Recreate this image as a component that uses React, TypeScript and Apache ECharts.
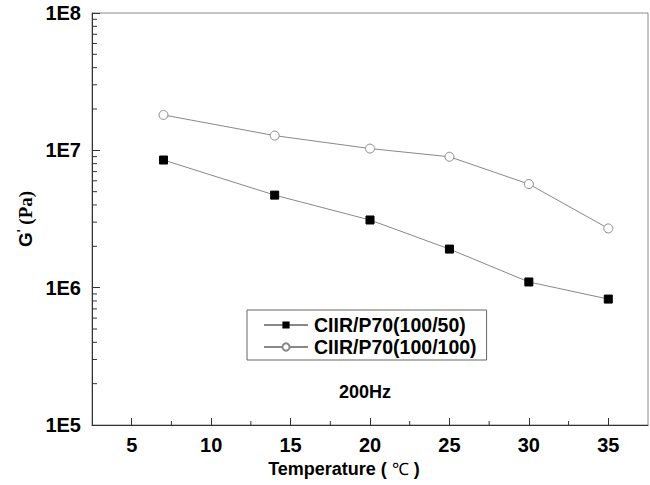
import React, { useEffect, useRef } from "react";
import * as echarts from "echarts";

const temperatures = [7, 14, 20, 25, 30, 35];
const seriesNames = ["CIIR/P70(100/50)", "CIIR/P70(100/100)"];
const modulus50 = [8.5e6, 4.72e6, 3.11e6, 1.91e6, 1.10e6, 8.26e5];
const modulus100 = [1.81e7, 1.28e7, 1.03e7, 8.98e6, 5.68e6, 2.70e6];
const xMin = 2.5;
const xMax = 37.5;
const yMin = 1e5;
const yMax = 1e8;
const xMajorTicks = [5, 10, 15, 20, 25, 30, 35];
const xMinorTicks = [7.5, 12.5, 17.5, 22.5, 27.5, 32.5];
const yMinorTicks = [
  2e5, 3e5, 4e5, 5e5, 6e5, 7e5, 8e5, 9e5,
  2e6, 3e6, 4e6, 5e6, 6e6, 7e6, 8e6, 9e6,
  2e7, 3e7, 4e7, 5e7, 6e7, 7e7, 8e7, 9e7,
];
const annotation = "200Hz";

const FONT = "Arial, 'Liberation Sans', Helvetica, sans-serif";
const SERIF = "'Times New Roman', 'Liberation Serif', serif";
const AXIS_COLOR = "#333";
const TEXT = "#000";

export default function App() {
  const ref = useRef<HTMLDivElement>(null);
  useEffect(() => {
    if (!ref.current) return;
    const chart = echarts.init(ref.current, null, { renderer: "svg" });
    chart.setOption({
      animation: false,
      backgroundColor: "#ffffff",
      grid: { left: 92, right: 2, top: 13, bottom: 60, show: true, borderColor: "#8a8a8a", borderWidth: 1 },
      legend: {
        orient: "vertical",
        left: 247,
        top: 310,
        width: 239,
        padding: [5, 10, 3, 16],
        itemWidth: 44,
        itemHeight: 9,
        itemGap: 2,
        borderColor: "#666",
        borderWidth: 1,
        data: seriesNames,
        textStyle: {
          fontFamily: FONT,
          fontWeight: "bold",
          fontSize: 19.5,
          color: TEXT,
          lineHeight: 20,
          padding: [0, 0, 0, 1],
        },
      },
      graphic: [
        {
          type: "text",
          left: 339,
          top: 383,
          style: {
            text: annotation,
            fontFamily: FONT,
            fontWeight: "bold",
            fontSize: 18,
            fill: TEXT,
          },
        },
      ],
      xAxis: {
        type: "value",
        min: xMin,
        max: xMax,
        axisLine: { show: true, lineStyle: { color: AXIS_COLOR, width: 1 } },
        axisTick: {
          show: true,
          inside: true,
          length: 7,
          customValues: xMajorTicks,
          lineStyle: { color: AXIS_COLOR, width: 1 },
        },
        axisLabel: {
          customValues: xMajorTicks,
          margin: 10,
          fontFamily: FONT,
          fontWeight: "bold",
          fontSize: 20,
          color: TEXT,
        },
        splitLine: { show: false },
        name: "{a|Temperature ( }{b|℃}{a| )}",
        nameLocation: "middle",
        nameGap: 35,
        nameTextStyle: {
          padding: [0, 52, 0, 0],
          rich: {
            a: { fontFamily: FONT, fontWeight: "bold", fontSize: 18, color: TEXT },
            b: { fontFamily: SERIF, fontSize: 17, color: TEXT },
          },
        },
      },
      yAxis: {
        type: "log",
        logBase: 10,
        min: yMin,
        max: yMax,
        axisLine: { show: true, lineStyle: { color: AXIS_COLOR, width: 1 } },
        axisTick: { show: true, inside: true, length: 8, lineStyle: { color: AXIS_COLOR, width: 1 } },
        axisLabel: {
          margin: 11,
          fontFamily: FONT,
          fontWeight: "bold",
          fontSize: 20,
          color: TEXT,
          formatter: (v: number) => "1E" + Math.round(Math.log10(v)),
        },
        splitLine: { show: false },
        name: "{a|G}{p|'}{b| (Pa)}",
        nameLocation: "middle",
        nameGap: 52,
        nameRotate: 90,
        nameTextStyle: {
          rich: {
            a: { fontFamily: FONT, fontWeight: "bold", fontSize: 19, color: TEXT },
            p: { fontFamily: FONT, fontWeight: "bold", fontSize: 12, color: TEXT, verticalAlign: "top" },
            b: { fontFamily: SERIF, fontWeight: "bold", fontSize: 19, color: TEXT },
          },
        },
      },
      series: [
        {
          name: "yMinorTicks",
          type: "custom",
          silent: true,
          clip: false,
          z: 5,
          data: yMinorTicks.map((v) => [xMin, v]),
          renderItem: (params: any, api: any) => {
            const p = api.coord([api.value(0), api.value(1)]);
            return {
              type: "line",
              shape: { x1: p[0], y1: p[1], x2: p[0] + 5, y2: p[1] },
              style: { stroke: AXIS_COLOR, lineWidth: 1 },
            };
          },
        },
        {
          name: "xMinorTicks",
          type: "custom",
          silent: true,
          clip: false,
          z: 5,
          data: xMinorTicks.map((v) => [v, yMin]),
          renderItem: (params: any, api: any) => {
            const p = api.coord([api.value(0), api.value(1)]);
            return {
              type: "line",
              shape: { x1: p[0], y1: p[1], x2: p[0], y2: p[1] - 4 },
              style: { stroke: AXIS_COLOR, lineWidth: 1 },
            };
          },
        },
        {
          name: seriesNames[0],
          type: "line",
          data: temperatures.map((t, i) => [t, modulus50[i]]),
          symbol: "rect",
          symbolSize: 8,
          itemStyle: { color: "#000", borderColor: "#000" },
          lineStyle: { color: "#888", width: 1 },
        },
        {
          name: seriesNames[1],
          type: "line",
          data: temperatures.map((t, i) => [t, modulus100[i]]),
          symbol: "circle",
          symbolSize: 9,
          itemStyle: { color: "#fff", borderColor: "#888", borderWidth: 1 },
          lineStyle: { color: "#888", width: 1 },
        },
      ],
    });
    return () => chart.dispose();
  }, []);
  return (
    <div
      ref={ref}
      style={{ position: "fixed", left: 0, top: 0, width: 650, height: 485 }}
    />
  );
}
